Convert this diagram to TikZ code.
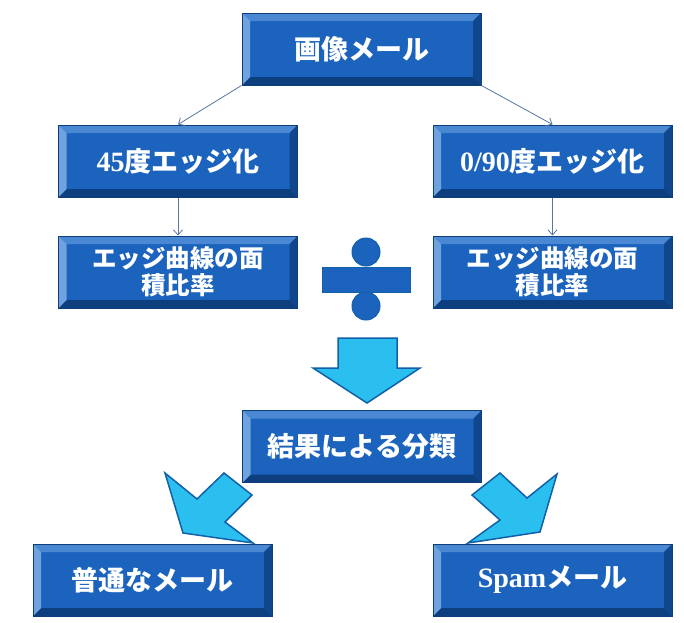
\documentclass[tikz,border=0pt]{standalone}
\usepackage{fontspec}
\setmainfont{Liberation Serif}
\newfontfamily\jpfont{Noto Sans CJK JP}
\usetikzlibrary{positioning,arrows.meta}
\definecolor{boxface}{HTML}{1B63BD}
\definecolor{boxline}{HTML}{0E3F7A}
\definecolor{bevtop}{HTML}{4A88D4}
\definecolor{bevleft}{HTML}{6FA3DF}
\definecolor{bevright}{HTML}{0F468C}
\definecolor{bevbottom}{HTML}{0D3E7E}
\definecolor{linkcol}{HTML}{5577A0}
\definecolor{flowfill}{HTML}{2BBFF0}
\definecolor{flowline}{HTML}{1260A8}
\newcommand{\lat}[1]{{\rmfamily\bfseries\fontsize{28}{30}\selectfont #1}}

\begin{document}
\begin{tikzpicture}[x=1pt,y=-1pt,
  box/.style={rectangle,draw=boxline,line width=1pt,fill=boxface,
    minimum width=239pt,minimum height=72pt,inner sep=0pt,align=center,
    text=white,font=\jpfont\bfseries\fontsize{27}{28}\selectfont,
    path picture={
      \coordinate (nw) at (path picture bounding box.north west);
      \coordinate (ne) at (path picture bounding box.north east);
      \coordinate (sw) at (path picture bounding box.south west);
      \coordinate (se) at (path picture bounding box.south east);
      \fill[bevtop] (nw) -- (ne) -- ([shift={(-8pt,-8pt)}]ne) -- ([shift={(8pt,-8pt)}]nw) -- cycle;
      \fill[bevbottom] (sw) -- (se) -- ([shift={(-8pt,8pt)}]se) -- ([shift={(8pt,8pt)}]sw) -- cycle;
      \fill[bevleft] (nw) -- ([shift={(8pt,-8pt)}]nw) -- ([shift={(8pt,8pt)}]sw) -- (sw) -- cycle;
      \fill[bevright] (ne) -- ([shift={(-8pt,-8pt)}]ne) -- ([shift={(-8pt,8pt)}]se) -- (se) -- cycle;
    }},
  twoline/.style={font=\jpfont\bfseries\fontsize{24.5}{27}\selectfont},
  link/.style={-{Straight Barb[length=5pt,width=9pt]},draw=linkcol,line width=0.8pt},
  flow/.style={fill=flowfill,draw=flowline,line width=1.5pt,line join=miter},
  divpart/.style={fill=boxface,draw=flowline,line width=1pt}]

\fill[white] (0,0) rectangle (684,622);
\useasboundingbox (0,0) rectangle (684,622);

% boxes
\node[box] (img) at (361.5,49) {画像メール};
\node[box] (e45) at (178,161) {\lat{45}度エッジ化};
\node[box] (e090) at (552.5,161) {\lat{0/90}度エッジ化};
\node[box,twoline] (r45) at (178,272) {エッジ曲線の面\\積比率};
\node[box,twoline] (r090) at (552.5,272) {エッジ曲線の面\\積比率};
\node[box] (cls) at (362,446.5) {結果による分類};
\node[box] (normal) at (152.5,580) {普通なメール};
\node[box] (spam) at (552.5,580) {\lat{Spam}メール};

% thin links
\draw[link] (img.south west) -- (e45.north);
\draw[link] (img.south east) -- (e090.north);
\draw[link] (e45) -- (r45);
\draw[link] (e090) -- (r090);

% division sign
\draw[divpart] (366,252) circle (14);
\draw[divpart] (322,267) rectangle (410,292);
\draw[divpart] (366,306) circle (14);

% block arrows
\draw[flow] (338,338) -- (397,338) -- (397,368) -- (420,368) -- (367,403)
  -- (313,368) -- (338,368) -- cycle;
\draw[flow] (224,473) -- (252,495) -- (225,522) -- (253,543) -- (183,533)
  -- (165,473) -- (197,499) -- cycle;
\draw[flow] (500,473) -- (527,498) -- (557,474) -- (540,532) -- (468,543)
  -- (500,520) -- (472,495) -- cycle;
\end{tikzpicture}
\end{document}
